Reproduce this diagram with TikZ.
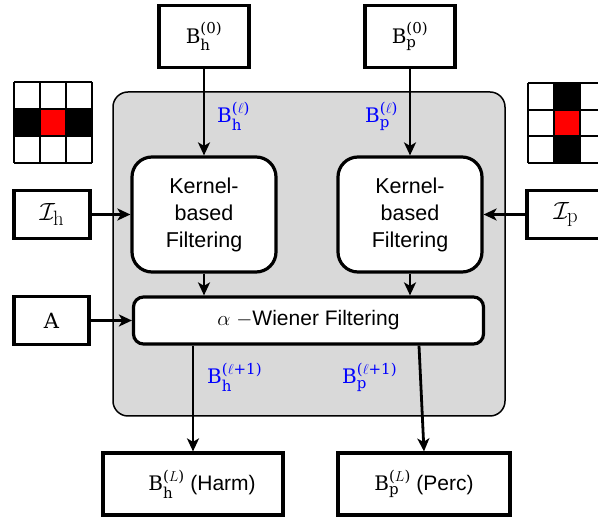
\documentclass[tikz,border=0pt]{standalone}
\usepackage[no-math]{fontspec}
\usepackage{amsmath}
\setmainfont{Liberation Sans}
\newfontfamily\serfont{DejaVu Serif}
\usetikzlibrary{arrows.meta}
\DeclareMathSizes{20}{20}{15}{11}
\DeclareMathSizes{21}{21}{15}{11}
\DeclareMathSizes{28}{28}{21}{15}
\newcommand{\Bv}[2]{{\serfont B}$_{\text{\serfont #1}}^{\text{\serfont #2}}$}
\begin{document}
\begin{tikzpicture}[x=1pt,y=-1pt,
  box/.style={draw, line width=3.2pt, fill=white, inner sep=0pt},
  rbox/.style={box, align=center},
  arr/.style={-{Stealth[length=13pt,width=12pt,inset=3.5pt]}, line width=2.8pt},
  lbl/.style={text=blue, inner sep=0pt, anchor=base west, font=\fontsize{20}{24}\selectfont},
  bfont/.style={font=\fontsize{20}{24}\selectfont},
  gridline/.style={line width=1.5pt}]
\useasboundingbox (0,0) rectangle (598,518);
\clip (0,0) rectangle (598,518);
% grey container
\node[draw, fill=gray!30, line width=1.5pt, rounded corners=15pt, minimum width=392pt, minimum height=324pt] (G) at (309,254) {};
% left grid
\fill[black] (14,109) rectangle (92,136);
\fill[red] (40,109) rectangle (66,136);
\foreach \x in {14,40,66,92} \draw[gridline] (\x,82) -- (\x,163);
\foreach \y in {82,109,136,163} \draw[gridline] (14,\y) -- (92,\y);
% right grid
\fill[black] (554,83) rectangle (580,163);
\fill[red] (554,110) rectangle (580,136);
\foreach \x in {528,554,580,606} \draw[gridline] (\x,83) -- (\x,163);
\foreach \y in {83,110,136,163} \draw[gridline] (528,\y) -- (606,\y);
% top inputs
\node[box, bfont, minimum width=90pt, minimum height=62pt] (Bh0) at (204,36.5) {\Bv{h}{(0)}};
\node[box, bfont, minimum width=90pt, minimum height=62pt] (Bp0) at (410,36.5) {\Bv{p}{(0)}};
% kernels
\node[rbox, rounded corners=20pt, minimum width=144pt, minimum height=115pt, font=\fontsize{21.5}{27}\selectfont] (K1) at (204,214.5) {Kernel-\\based\\Filtering};
\node[rbox, rounded corners=20pt, minimum width=144pt, minimum height=115pt, font=\fontsize{21.5}{27}\selectfont] (K2) at (410,214.5) {Kernel-\\based\\Filtering};
% side inputs
\node[box, minimum width=76pt, minimum height=48pt, font=\fontsize{28}{30}\selectfont] (Ih) at (52,214.5) {$\mathcal{I}_{\mathrm{h}}$};
\node[box, minimum width=78pt, minimum height=48pt, font=\fontsize{28}{30}\selectfont] (Ip) at (566,214.5) {$\mathcal{I}_{\mathrm{p}}$};
\node[box, minimum width=75pt, minimum height=48pt, font=\serfont\fontsize{21}{25}\selectfont] (A) at (51.5,320.5) {A};
% wiener
\node[rbox, rounded corners=10pt, minimum width=350pt, minimum height=47pt, font=\fontsize{21}{25}\selectfont] (W) at (308.5,320.5) {$\alpha$ $-$Wiener Filtering};
% outputs
\node[box, bfont, minimum width=180pt, minimum height=62pt] (Hl) at (193,484) {\hspace*{18pt}\Bv{h}{($L$)} {\fontsize{21}{24}\selectfont(Harm)}};
\node[box, bfont, minimum width=172pt, minimum height=62pt] (Pl) at (424,484) {\Bv{p}{($L$)} {\fontsize{21}{24}\selectfont(Perc)}};
% blue labels
\node[lbl] (lh) at (217,123) {\Bv{h}{($\ell$)}};
\node[lbl] (lp) at (365,123) {\Bv{p}{($\ell$)}};
\node[lbl] (lh1) at (207,384) {\Bv{h}{($\ell$+1)}};
\node[lbl] (lp1) at (342,384) {\Bv{p}{($\ell$+1)}};
% arrows
\draw[arr] (Bh0.south) -- (K1.north);
\draw[arr] (Bp0.south) -- (K2.north);
\draw[arr] (K1.south) -- (K1.south |- W.north);
\draw[arr] (K2.south) -- (K2.south |- W.north);
\draw[arr] (Ih.east) -- (K1.west);
\draw[arr] (Ip.west) -- (K2.east);
\draw[arr] (A.east) -- (W.west);
\draw[arr] (W.south -| Hl.north) -- (Hl.north);
\draw[arr] ([xshift=-5pt]W.south -| Pl.north) -- (Pl.north);
\end{tikzpicture}
\end{document}
